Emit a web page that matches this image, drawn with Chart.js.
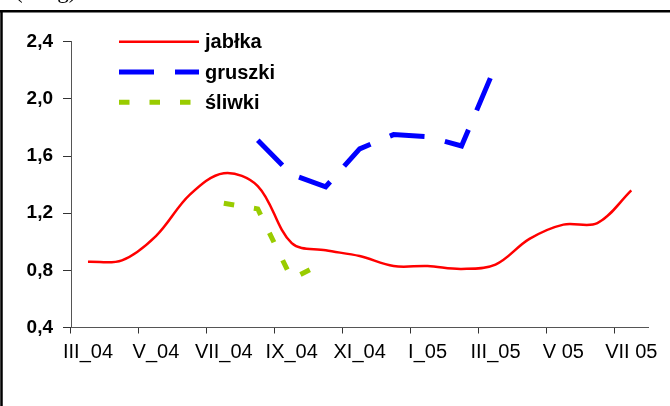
<!DOCTYPE html>
<html><head><meta charset="utf-8">
<script src="https://cdn.jsdelivr.net/npm/chart.js@4"></script>
<style>html,body{margin:0;padding:0;background:#fff;}canvas{display:block;}</style>
</head><body>
<canvas id="c" width="670" height="406"></canvas>
<script>
const categories = ['III_04','IV_04','V_04','VI_04','VII_04','VIII_04','IX_04','X_04','XI_04','XII_04','I_05','II_05','III_05','IV_05','V 05','VI 05','VII 05'];
const xTickLabels = ['III_04','','V_04','','VII_04','','IX_04','','XI_04','','I_05','','III_05','','V 05','','VII 05'];
const yTickLabels = ['0,4','0,8','1,2','1,6','2,0','2,4'];
const seriesNames = ['jabłka','gruszki','śliwki'];
const unitLabel = '(zł/kg)';
const jablka  = [0.86,0.87,1.04,1.33,1.48,1.39,0.99,0.94,0.90,0.83,0.83,0.81,0.84,1.02,1.12,1.13,1.36];
const gruszki = [null,null,null,null,null,1.71,1.47,1.385,1.65,1.75,1.735,1.67,2.23,null,null,null,null];
const sliwki  = [null,null,null,null,1.27,1.23,0.74,0.86,null,null,null,null,null,null,null,null,null];

const SANS = '"Liberation Sans", Arial, sans-serif';

const framePlugin = {
  id: 'frame',
  beforeDraw(chart) {
    const ctx = chart.ctx;
    ctx.save();
    ctx.fillStyle = '#fff';
    ctx.fillRect(0, 0, chart.width, chart.height);
    ctx.strokeStyle = '#000';
    ctx.lineWidth = 2.5;
    ctx.beginPath();
    ctx.moveTo(0, 11.2); ctx.lineTo(chart.width, 11.2);
    ctx.moveTo(1.5, 10); ctx.lineTo(1.5, chart.height);
    ctx.stroke();
    ctx.fillStyle = '#000';
    ctx.font = '23px "Liberation Serif", "Times New Roman", serif';
    ctx.textBaseline = 'alphabetic';
    ctx.fillText(unitLabel, 15, -2);
    ctx.restore();
  }
};

const legendPlugin = {
  id: 'inlineLegend',
  afterDraw(chart) {
    const ctx = chart.ctx;
    ctx.save();
    chart.data.datasets.forEach((ds, k) => {
      const y = 41.7 + 30.3 * k;
      ctx.strokeStyle = ds.borderColor;
      ctx.lineWidth = ds.borderWidth;
      ctx.lineCap = 'butt';
      ctx.setLineDash(ds.borderDash || []);
      ctx.beginPath();
      ctx.moveTo(119, y);
      ctx.lineTo(199, y);
      ctx.stroke();
      ctx.setLineDash([]);
      ctx.fillStyle = '#000';
      ctx.font = 'bold 20px ' + SANS;
      ctx.textBaseline = 'middle';
      ctx.textAlign = 'left';
      ctx.fillText(ds.label, 205, y + 1);
    });
    ctx.restore();
  }
};

new Chart(document.getElementById('c'), {
  type: 'line',
  data: {
    labels: categories,
    datasets: [
      { label: seriesNames[0], data: jablka, borderColor: '#ff0000', borderWidth: 2.5, tension: 0.35, pointRadius: 0, fill: false },
      { label: seriesNames[1], data: gruszki, borderColor: '#0000ff', borderWidth: 5, borderDash: [35, 21], borderCapStyle: 'butt', tension: 0, pointRadius: 0, fill: false },
      { label: seriesNames[2], data: sliwki, borderColor: '#99cc00', borderWidth: 5, borderDash: [10.5, 20], borderCapStyle: 'butt', tension: 0, pointRadius: 0, fill: false }
    ]
  },
  options: {
    responsive: false,
    animation: false,
    devicePixelRatio: 1,
    layout: { padding: { left: 0, right: 21.7, top: 41.7, bottom: 0 } },
    plugins: { legend: { display: false }, tooltip: { enabled: false } },
    scales: {
      x: {
        type: 'category',
        offset: true,
        grid: {
          offset: true, drawOnChartArea: false, drawTicks: true, tickLength: 6, tickWidth: 1,
          tickColor: (c) => (c.index % 2 === 0 ? '#333' : 'rgba(0,0,0,0)')
        },
        border: { color: '#555', width: 1 },
        ticks: {
          autoSkip: false, maxRotation: 0, minRotation: 0, padding: 7, color: '#000',
          font: { family: SANS, size: 20 },
          callback: (v, i) => xTickLabels[i]
        },
        afterFit: (s) => { s.height = 78.5; }
      },
      y: {
        min: 0.4, max: 2.4,
        grid: { drawOnChartArea: false, drawTicks: true, tickLength: 8, tickColor: '#333' },
        border: { color: '#555', width: 1 },
        ticks: {
          stepSize: 0.4, padding: 10, color: '#000',
          font: { family: SANS, size: 19, weight: 'bold' },
          callback: (v) => yTickLabels[Math.round((v - 0.4) / 0.4)]
        },
        afterFit: (s) => { s.width = 71; }
      }
    }
  },
  plugins: [framePlugin, legendPlugin]
});
</script>
</body></html>
